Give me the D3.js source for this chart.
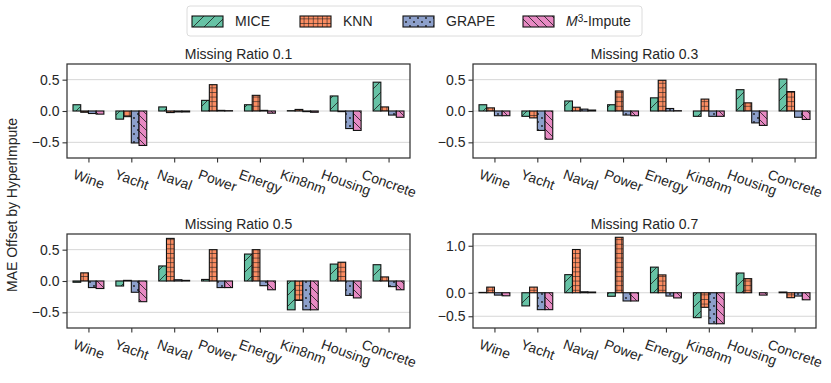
<!DOCTYPE html>
<html>
<head>
<meta charset="utf-8">
<script src="https://cdn.jsdelivr.net/npm/d3@7"></script>
<style>
  body { margin: 0; background: #fff; }
  text { font-family: "Liberation Sans", Arial, sans-serif; fill: #262626; }
</style>
</head>
<body>
<svg id="chart" width="831" height="383"></svg>
<script>
// datasets along the x axis, methods in the legend
var datasets = ["Wine", "Yacht", "Naval", "Power", "Energy", "Kin8nm", "Housing", "Concrete"];
var methods = ["MICE", "KNN", "GRAPE", "M3"];
var colors = ["#66c2a5", "#fc8d62", "#8da0cb", "#e78ac3"];

// MAE offset per method (rows: MICE, KNN, GRAPE, M3-Impute)
var ratio01 = [
  [0.10, -0.13, 0.065, 0.17, 0.10, 0.005, 0.24, 0.46],
  [-0.02, -0.09, -0.025, 0.42, 0.25, 0.025, -0.01, 0.065],
  [-0.04, -0.51, -0.015, 0.01, 0.01, -0.01, -0.28, -0.065],
  [-0.05, -0.55, -0.015, 0.005, -0.035, -0.02, -0.31, -0.10]
];
var ratio03 = [
  [0.10, -0.085, 0.16, 0.10, 0.21, -0.085, 0.34, 0.51],
  [0.05, -0.11, 0.06, 0.32, 0.49, 0.19, 0.13, 0.31],
  [-0.075, -0.31, 0.03, -0.065, 0.04, -0.085, -0.19, -0.10],
  [-0.075, -0.45, 0.015, -0.075, 0.005, -0.085, -0.23, -0.135]
];
var ratio05 = [
  [-0.02, -0.08, 0.24, 0.025, 0.43, -0.46, 0.27, 0.26],
  [0.13, 0.01, 0.68, 0.50, 0.50, -0.31, 0.30, 0.065],
  [-0.105, -0.18, 0.02, -0.105, -0.075, -0.46, -0.23, -0.09],
  [-0.12, -0.33, 0.01, -0.105, -0.14, -0.46, -0.27, -0.14]
];
var ratio07 = [
  [0.007, -0.28, 0.385, -0.075, 0.545, -0.53, 0.42, 0.015],
  [0.12, 0.12, 0.92, 1.18, 0.38, -0.31, 0.30, -0.105],
  [-0.05, -0.36, 0.02, -0.175, -0.07, -0.66, 0.0, -0.07],
  [-0.065, -0.36, 0.015, -0.175, -0.11, -0.66, -0.05, -0.15]
];

var panels = [
  {title: "Missing Ratio 0.1", data: ratio01, x0: 67, y0: 64, ydom: [-0.75, 0.75], yticks: [-0.5, 0, 0.5]},
  {title: "Missing Ratio 0.3", data: ratio03, x0: 473, y0: 64, ydom: [-0.75, 0.75], yticks: [-0.5, 0, 0.5]},
  {title: "Missing Ratio 0.5", data: ratio05, x0: 67, y0: 234, ydom: [-0.75, 0.75], yticks: [-0.5, 0, 0.5]},
  {title: "Missing Ratio 0.7", data: ratio07, x0: 473, y0: 234, ydom: [-0.75, 1.25], yticks: [-0.5, 0, 1.0]}
];
var pw = 343, ph = 94;
var barW = 0.18;
var fontSize = 14;

var svg = d3.select("#chart");
svg.append("rect").attr("width", 831).attr("height", 383).attr("fill", "#fff");

// hatch patterns, one per method
var defs = svg.append("defs");
function pattern(id, size, color) {
  var p = defs.append("pattern").attr("id", id).attr("patternUnits", "userSpaceOnUse")
    .attr("width", size).attr("height", size);
  p.append("rect").attr("width", size).attr("height", size).attr("fill", color);
  return p;
}
var hatchStroke = "#1a1a1a";
pattern("h0", 11, colors[0]).append("path")
  .attr("d", "M0,11 L11,0 M-1,1 L1,-1 M10,12 L12,10")
  .attr("stroke", hatchStroke).attr("stroke-width", 0.8);
pattern("h1", 4.6, colors[1]).append("path")
  .attr("d", "M0,0.3 H4.6 M0.3,0 V4.6")
  .attr("stroke", hatchStroke).attr("stroke-width", 0.7);
var g2 = pattern("h2", 8, colors[2]);
g2.append("circle").attr("cx", 2).attr("cy", 2).attr("r", 0.9).attr("fill", hatchStroke);
g2.append("circle").attr("cx", 6).attr("cy", 6).attr("r", 0.9).attr("fill", hatchStroke);
pattern("h3", 8, colors[3]).append("path")
  .attr("d", "M0,0 L8,8 M-1,7 L1,9 M7,-1 L9,1")
  .attr("stroke", hatchStroke).attr("stroke-width", 0.8);

panels.forEach(function(p) {
  var x = d3.scaleLinear().domain([-0.5, 7.5]).range([p.x0, p.x0 + pw]);
  var y = d3.scaleLinear().domain(p.ydom).range([p.y0 + ph, p.y0]);
  var g = svg.append("g");

  // grid
  g.selectAll("line.grid").data(p.yticks).enter().append("line")
    .attr("x1", p.x0).attr("x2", p.x0 + pw)
    .attr("y1", function(d) { return y(d); }).attr("y2", function(d) { return y(d); })
    .attr("stroke", "#d6d6d6").attr("stroke-width", 1);

  // bars
  p.data.forEach(function(vals, m) {
    g.selectAll("rect.m" + m).data(vals).enter().append("rect")
      .attr("x", function(d, i) { return x(i + (m - 2) * barW); })
      .attr("width", x(barW) - x(0))
      .attr("y", function(d) { return y(Math.max(0, d)); })
      .attr("height", function(d) { return Math.abs(y(d) - y(0)); })
      .attr("fill", "url(#h" + m + ")")
      .attr("stroke", "#111").attr("stroke-width", 1.1);
  });

  // frame
  g.append("rect").attr("x", p.x0).attr("y", p.y0).attr("width", pw).attr("height", ph)
    .attr("fill", "none").attr("stroke", "#333").attr("stroke-width", 1.25);

  // y axis
  var ya = g.append("g").attr("transform", "translate(" + p.x0 + ",0)")
    .call(d3.axisLeft(y).tickValues(p.yticks).tickFormat(d3.format(".1f")).tickSize(4.5).tickPadding(3));
  ya.select(".domain").remove();
  ya.selectAll("line").attr("stroke", "#333").attr("stroke-width", 1.1);
  ya.selectAll("text").attr("font-size", fontSize).attr("font-family", null).style("fill", "#262626");

  // x axis
  var xa = g.append("g").attr("transform", "translate(0," + (p.y0 + ph) + ")")
    .call(d3.axisBottom(x).tickValues(d3.range(datasets.length))
      .tickFormat(function(i) { return datasets[i]; }).tickSize(4.5));
  xa.select(".domain").remove();
  xa.selectAll("line").attr("stroke", "#333").attr("stroke-width", 1.1);
  var ang = 20 * Math.PI / 180;
  xa.selectAll("text")
    .attr("font-size", fontSize).attr("font-family", null).style("fill", "#262626")
    .attr("y", 0).attr("dy", "0.35em")
    .attr("text-anchor", "middle")
    .attr("transform", function() {
      var w = this.getComputedTextLength();
      var h = fontSize * 1.15;
      var cy = 8 + (w * Math.sin(ang) + h * Math.cos(ang)) / 2;
      return "translate(0," + cy + ") rotate(20)";
    });

  // title
  g.append("text").attr("x", p.x0 + pw / 2).attr("y", p.y0 - 5)
    .attr("text-anchor", "middle").attr("font-size", fontSize).text(p.title);
});

// y label
svg.append("text")
  .attr("transform", "translate(17,205) rotate(-90)")
  .attr("text-anchor", "middle").attr("font-size", fontSize)
  .text("MAE Offset by HyperImpute");

// legend
var legend = svg.append("g");
legend.append("rect").attr("x", 187).attr("y", 6).attr("width", 455).attr("height", 30)
  .attr("rx", 3).attr("fill", "#fff").attr("stroke", "#dcdcdc").attr("stroke-width", 1);
var patchX = [192, 300, 403, 523];
methods.forEach(function(m, i) {
  legend.append("rect").attr("x", patchX[i]).attr("y", 16).attr("width", 31).attr("height", 11)
    .attr("fill", "url(#h" + i + ")").attr("stroke", "#111").attr("stroke-width", 1.1);
  var t = legend.append("text").attr("x", patchX[i] + 43).attr("y", 21.5).attr("dy", "0.35em")
    .attr("font-size", fontSize);
  if (m === "M3") {
    t.append("tspan").attr("font-style", "italic").text("M");
    t.append("tspan").attr("font-size", 10).attr("dy", "-0.45em").text("3");
    t.append("tspan").attr("dy", "0.45em").attr("dy", 4.5).text("-Impute");
  } else {
    t.text(m);
  }
});
</script>
</body>
</html>
